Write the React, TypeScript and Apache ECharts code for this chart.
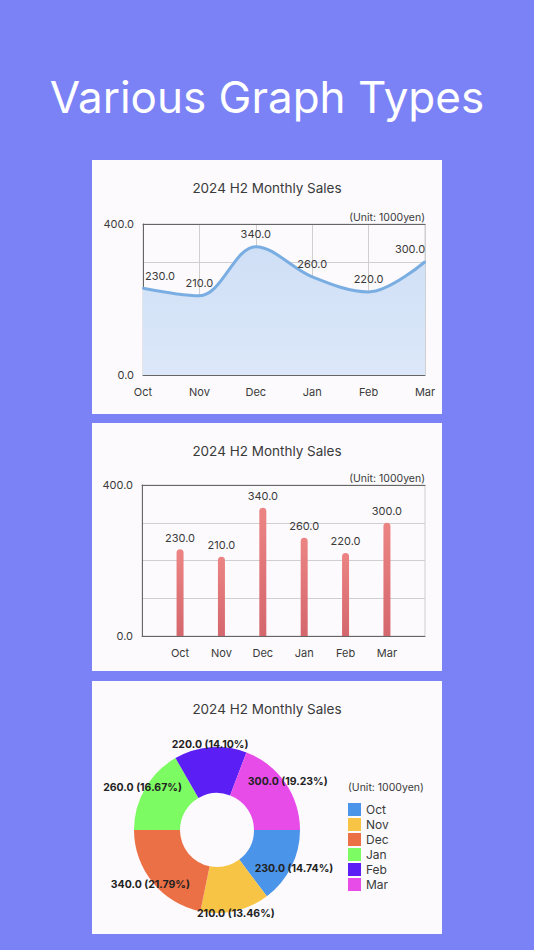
import { useEffect, useRef } from "react";
import * as echarts from "echarts";

const months = ["Oct", "Nov", "Dec", "Jan", "Feb", "Mar"];
const sales = [230, 210, 340, 260, 220, 300];
const yMin = 0;
const yMax = 400;
const yInterval = 100;
const pieColors = ["#4a94ea", "#f8c445", "#ec7046", "#7dfb62", "#5b1ef5", "#e74ce9"];

const pageTitle = "Various Graph Types";
const chartTitle = "2024 H2 Monthly Sales";
const unitText = "(Unit: 1000yen)";

const FONT = "Inter, sans-serif";
const TEXT = "#3a3a3a";
const AXIS_DARK = "#666";
const GRID_LIGHT = "#cfcfcf";

const fmt1 = (v: number) => v.toFixed(1);

export default function App() {
  const ref = useRef<HTMLDivElement>(null);

  useEffect(() => {
    document.body.style.margin = "0";
    if (!ref.current) return;
    const chart = echarts.init(ref.current, null, { renderer: "svg" });

    const total = sales.reduce((a, b) => a + b, 0);
    const yLabel = (v: number) => (v === yMin || v === yMax ? fmt1(v) : "");

    const panels = [
      { y: 160, h: 254 },
      { y: 423, h: 248 },
      { y: 681, h: 253 },
    ];

    chart.setOption({
      animation: false,
      backgroundColor: "#7b82f5",
      textStyle: { fontFamily: FONT },
      title: [
        {
          text: pageTitle,
          left: "center",
          top: 70,
          textStyle: { color: "#fff", fontSize: 44, fontWeight: "normal", fontFamily: FONT },
        },
        ...panels.map((p) => ({
          text: chartTitle,
          left: "center",
          top: p.y + 16,
          textStyle: { color: TEXT, fontSize: 13.5, fontWeight: "normal", fontFamily: FONT },
        })),
      ],
      graphic: [
        ...panels.map((p) => ({
          type: "rect",
          z: -10,
          shape: { x: 92, y: p.y, width: 350, height: p.h },
          style: { fill: "#fcfafd" },
        })),
        {
          type: "text",
          x: 425,
          y: 217,
          style: { text: unitText, fill: TEXT, font: `10.5px ${FONT}`, align: "right", verticalAlign: "middle" },
        },
        {
          type: "text",
          x: 425,
          y: 478,
          style: { text: unitText, fill: TEXT, font: `10.5px ${FONT}`, align: "right", verticalAlign: "middle" },
        },
        {
          type: "text",
          x: 348,
          y: 787,
          style: { text: unitText, fill: TEXT, font: `10.5px ${FONT}`, align: "left", verticalAlign: "middle" },
        },
      ],
      grid: [
        { left: 143, top: 224, width: 282, height: 151, show: true, borderColor: GRID_LIGHT, borderWidth: 1 },
        { left: 142, top: 485, width: 283, height: 151, show: true, borderColor: GRID_LIGHT, borderWidth: 1 },
      ],
      xAxis: [
        {
          gridIndex: 0,
          type: "category",
          data: months,
          boundaryGap: false,
          axisLine: { onZero: false, lineStyle: { color: AXIS_DARK } },
          axisTick: { show: false },
          axisLabel: { color: TEXT, fontSize: 11, margin: 11 },
          splitLine: { show: true, lineStyle: { color: GRID_LIGHT } },
        },
        {
          gridIndex: 0,
          type: "category",
          position: "top",
          data: months,
          boundaryGap: false,
          axisLine: { onZero: false, lineStyle: { color: AXIS_DARK } },
          axisTick: { show: false },
          axisLabel: { show: false },
        },
        {
          gridIndex: 1,
          type: "value",
          min: -0.92,
          max: 5.92,
          axisLine: { onZero: false, lineStyle: { color: AXIS_DARK } },
          axisTick: { show: false },
          splitLine: { show: false },
          axisLabel: {
            color: TEXT,
            fontSize: 11,
            margin: 11,
            customValues: months.map((_, i) => i),
            formatter: (v: number) => months[Math.round(v)] ?? "",
          },
        },
        {
          gridIndex: 1,
          type: "value",
          position: "top",
          min: -0.92,
          max: 5.92,
          axisLine: { onZero: false, lineStyle: { color: AXIS_DARK } },
          axisTick: { show: false },
          axisLabel: { show: false },
          splitLine: { show: false },
        },
      ],
      yAxis: [0, 1].map((g) => ({
        gridIndex: g,
        type: "value",
        min: yMin,
        max: yMax,
        interval: yInterval,
        axisLine: { show: true, onZero: false, lineStyle: { color: AXIS_DARK } },
        axisTick: { show: false },
        axisLabel: { color: TEXT, fontSize: 11, margin: 9, formatter: yLabel },
        splitLine: { show: true, lineStyle: { color: GRID_LIGHT } },
      })),
      legend: {
        orient: "vertical",
        left: 348,
        top: 803,
        padding: 0,
        itemWidth: 13,
        itemHeight: 13,
        itemGap: 2,
        icon: "rect",
        data: months,
        textStyle: { color: TEXT, fontSize: 12, fontFamily: FONT },
      },
      series: [
        {
          type: "line",
          xAxisIndex: 0,
          yAxisIndex: 0,
          smooth: 0.35,
          symbol: "circle",
          symbolSize: 2,
          showSymbol: true,
          itemStyle: { color: "#7aaee2" },
          lineStyle: { color: "#7aaee2", width: 3 },
          areaStyle: {
            color: new echarts.graphic.LinearGradient(0, 0, 0, 1, [
              { offset: 0, color: "#cfdff5" },
              { offset: 1, color: "#dce8fa" },
            ]),
            opacity: 1,
          },
          label: {
            show: true,
            position: "top",
            distance: 6,
            color: TEXT,
            fontSize: 11,
            formatter: (p: any) => fmt1(p.value),
          },
          data: sales.map((v, i) => ({
            value: v,
            label: i === 0 ? { offset: [17, 0] } : i === sales.length - 1 ? { offset: [-15, 0] } : {},
          })),
        },
        {
          type: "bar",
          xAxisIndex: 2,
          yAxisIndex: 1,
          barWidth: 7,
          itemStyle: {
            borderRadius: [4, 4, 0, 0],
            color: new echarts.graphic.LinearGradient(0, 0, 0, 1, [
              { offset: 0, color: "#ec8484" },
              { offset: 1, color: "#d4676d" },
            ]),
          },
          label: {
            show: true,
            position: "top",
            distance: 6,
            color: TEXT,
            fontSize: 11,
            formatter: (p: any) => fmt1(p.value[1]),
          },
          data: sales.map((v, i) => [i, v]),
        },
        {
          type: "pie",
          center: [217, 830],
          radius: [37, 83],
          startAngle: 0,
          clockwise: true,
          label: { show: false },
          labelLine: { show: false },
          emphasis: { disabled: true },
          data: months.map((m, i) => ({ name: m, value: sales[i], itemStyle: { color: pieColors[i] } })),
        },
        {
          type: "pie",
          center: [217, 830],
          radius: [0, 166],
          startAngle: 0,
          clockwise: true,
          silent: true,
          z: 5,
          itemStyle: { color: "rgba(0,0,0,0)" },
          label: {
            show: true,
            position: "inside",
            color: "#222",
            fontSize: 10.5,
            fontWeight: "bold",
            formatter: (p: any) => `${fmt1(p.value)} (${((p.value / total) * 100).toFixed(2)}%)`,
          },
          labelLine: { show: false },
          emphasis: { disabled: true },
          data: months.map((m, i) => ({ name: m, value: sales[i] })),
        },
      ],
    });

    return () => {
      chart.dispose();
    };
  }, []);

  return <div ref={ref} style={{ width: "534px", height: "950px" }} />;
}
